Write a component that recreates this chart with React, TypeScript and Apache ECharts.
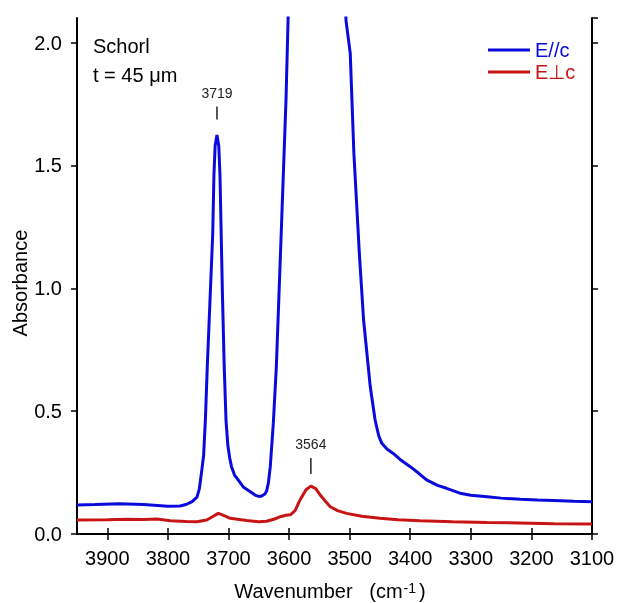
import React, { useEffect, useRef } from 'react';
import * as echarts from 'echarts';

// E//c spectrum (wavenumber, absorbance)
const blueWn = [3950, 3920, 3880, 3840, 3800, 3780, 3770, 3760, 3752, 3748, 3744, 3741, 3738, 3735, 3730, 3726, 3724, 3722, 3719, 3716, 3714, 3712, 3710, 3707, 3704, 3701, 3698, 3695, 3690, 3684, 3675, 3664, 3655, 3650, 3645, 3640, 3637, 3634, 3631, 3626, 3621, 3613, 3605, 3600, 3590, 3560, 3530, 3510, 3506, 3499, 3493, 3484, 3477, 3466, 3458, 3452, 3447, 3438, 3428, 3415, 3400, 3385, 3373, 3355, 3340, 3318, 3300, 3273, 3250, 3218, 3190, 3163, 3130, 3100];
const blueAbs = [0.118, 0.120, 0.123, 0.120, 0.113, 0.114, 0.120, 0.132, 0.150, 0.185, 0.26, 0.32, 0.47, 0.68, 0.98, 1.22, 1.46, 1.58, 1.624, 1.58, 1.46, 1.22, 0.98, 0.68, 0.46, 0.36, 0.31, 0.274, 0.24, 0.22, 0.19, 0.172, 0.157, 0.153, 0.155, 0.163, 0.175, 0.21, 0.274, 0.45, 0.68, 1.22, 1.77, 2.25, 3.0, 3.5, 3.3, 2.4, 2.09, 1.956, 1.549, 1.142, 0.871, 0.60, 0.464, 0.40, 0.369, 0.345, 0.328, 0.30, 0.274, 0.245, 0.22, 0.198, 0.186, 0.166, 0.158, 0.152, 0.146, 0.141, 0.138, 0.136, 0.133, 0.131];

// E⊥c spectrum (wavenumber, absorbance)
const redWn = [3950, 3900, 3868, 3840, 3818, 3796, 3770, 3752, 3736, 3725, 3717, 3710, 3697, 3685, 3670, 3650, 3637, 3625, 3615, 3605, 3598, 3590, 3582, 3572, 3564, 3556, 3549, 3540, 3532, 3520, 3505, 3480, 3450, 3420, 3384, 3330, 3273, 3220, 3163, 3100];
const redAbs = [0.057, 0.058, 0.060, 0.059, 0.061, 0.054, 0.051, 0.050, 0.057, 0.072, 0.084, 0.078, 0.064, 0.060, 0.055, 0.050, 0.052, 0.060, 0.070, 0.076, 0.078, 0.095, 0.138, 0.180, 0.195, 0.185, 0.160, 0.133, 0.111, 0.095, 0.084, 0.072, 0.064, 0.058, 0.054, 0.050, 0.047, 0.045, 0.042, 0.041];

const seriesNames = ['E//c', 'E\u22A5c'];
const peakLabels = [3719, 3564];
const xMin = 3100;
const xMax = 3950;
const xStep = 100;
const yMin = 0;
const yMax = 2.1;
const yStep = 0.5;

const BLUE = '#0a0adc';
const RED = '#c81414';
const FONT = '"Liberation Sans", Arial, sans-serif';

export default function App() {
  const ref = useRef<HTMLDivElement>(null);
  useEffect(() => {
    if (!ref.current) return;
    const chart = echarts.init(ref.current, null, { renderer: 'svg' });
    const axisLine = { show: true, lineStyle: { color: '#000', width: 2 } };
    const tick = { show: true, inside: false, length: 6, lineStyle: { color: '#000', width: 1.5 } };
    const xFmt = (v: number) => (Math.abs(v % xStep) < 1e-6 ? String(v) : '');
    const yFmt = (v: number) => (Math.abs(v / yStep - Math.round(v / yStep)) < 1e-6 ? v.toFixed(1) : '');
    chart.setOption({
      animation: false,
      textStyle: { fontFamily: FONT },
      grid: { left: 77, right: 27, top: 18, bottom: 69, containLabel: false, outerBoundsMode: 'none' },
      legend: {
        orient: 'vertical',
        left: 488,
        top: 40,
        padding: 0,
        icon: 'rect',
        itemWidth: 42,
        itemHeight: 3,
        itemGap: 2,
        textStyle: { fontSize: 20, fontFamily: FONT },
        data: [
          { name: seriesNames[0], textStyle: { color: BLUE } },
          { name: seriesNames[1], textStyle: { color: RED } },
        ],
      },
      xAxis: [
        {
          type: 'value', min: xMin, max: xMax, interval: xStep, inverse: true, position: 'bottom',
          axisLine, axisTick: tick, splitLine: { show: false },
          axisLabel: { formatter: xFmt, fontSize: 20, color: '#000', margin: 14, showMaxLabel: false, showMinLabel: true },
          name: '{a|Wavenumber   (cm}{s|-1}{a|)}',
          nameLocation: 'middle', nameGap: 47, nameMoveOverlap: false,
          nameTextStyle: {
            padding: [0, 9, 0, 0],
            rich: {
              a: { fontSize: 20, color: '#000', fontFamily: FONT },
              s: { fontSize: 14, color: '#000', verticalAlign: 'top', fontFamily: FONT, padding: [0, 3, 0, 1] },
            },
          },
        },
        {
          type: 'value', min: xMin, max: xMax, interval: xStep, inverse: true, position: 'top',
          axisLine, axisTick: tick, splitLine: { show: false }, axisLabel: { show: false },
        },
      ],
      yAxis: [
        {
          type: 'value', min: yMin, max: yMax, interval: yStep, position: 'left',
          axisLine, axisTick: tick, splitLine: { show: false },
          axisLabel: { formatter: yFmt, fontSize: 20, color: '#000', margin: 15, showMaxLabel: false },
          name: 'Absorbance', nameLocation: 'middle', nameGap: 47, nameMoveOverlap: false,
          nameTextStyle: { fontSize: 20, color: '#000', padding: [0, 14, 0, 0] },
        },
        {
          type: 'value', min: yMin, max: yMax, interval: yStep, position: 'right',
          axisLine, axisTick: tick, splitLine: { show: false }, axisLabel: { show: false },
        },
      ],
      graphic: [
        { type: 'text', left: 93, top: 36, style: { text: 'Schorl', fontSize: 20, fontFamily: FONT, fill: '#000' } },
        { type: 'text', left: 93, top: 65, style: { text: 't = 45 \u03BCm', fontSize: 20, fontFamily: FONT, fill: '#000' } },
      ],
      series: [
        {
          name: seriesNames[0], type: 'line', symbol: 'none', clip: true,
          data: blueWn.map((w, i) => [w, blueAbs[i]]),
          lineStyle: { color: BLUE, width: 3 }, itemStyle: { color: BLUE },
          markPoint: {
            silent: true,
            symbol: 'rect', symbolSize: [1.5, 13],
            itemStyle: { color: '#222' },
            label: { show: true, position: 'top', distance: 7, fontSize: 14, color: '#222', formatter: String(peakLabels[0]) },
            data: [{ coord: [peakLabels[0], 1.713] }],
          },
        },
        {
          name: seriesNames[1], type: 'line', symbol: 'none', clip: true,
          data: redWn.map((w, i) => [w, redAbs[i]]),
          lineStyle: { color: RED, width: 3 }, itemStyle: { color: RED },
          markPoint: {
            silent: true,
            symbol: 'rect', symbolSize: [1.5, 16],
            itemStyle: { color: '#222' },
            label: { show: true, position: 'top', distance: 7, fontSize: 14, color: '#222', formatter: String(peakLabels[1]) },
            data: [{ coord: [peakLabels[1], 0.277] }],
          },
        },
      ],
    });
    return () => chart.dispose();
  }, []);
  return <div ref={ref} style={{ position: 'fixed', left: 0, top: 0, width: 619, height: 603 }} />;
}
